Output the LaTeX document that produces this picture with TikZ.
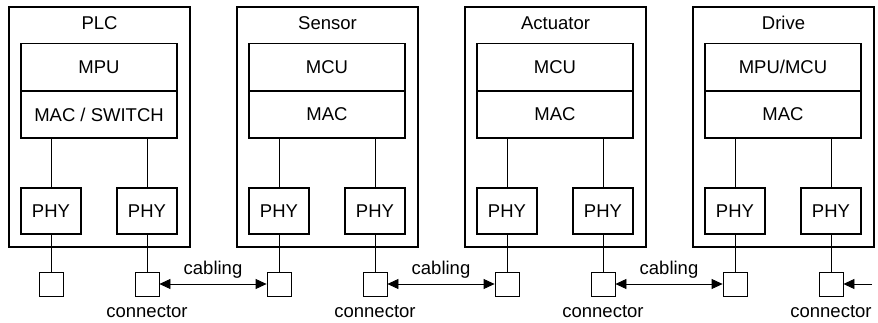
\documentclass[tikz,border=0pt]{standalone}
\usepackage{fontspec}
\setmainfont{Liberation Sans}
\usetikzlibrary{arrows.meta}
\begin{document}
\begin{tikzpicture}[x=1pt,y=-1pt,
  every node/.style={font=\fontsize{18.5}{22}\selectfont},
  outerbox/.style={draw,line width=1.6pt,minimum width=181pt,minimum height=240pt,inner sep=0pt},
  blockbox/.style={draw,line width=1.6pt,minimum width=156pt,minimum height=47pt,inner sep=0pt},
  phybox/.style={draw,line width=1.6pt,minimum width=60pt,minimum height=46pt,inner sep=0pt},
  conbox/.style={draw,line width=0.8pt,minimum width=24pt,minimum height=24pt,inner sep=0pt},
  wire/.style={line width=0.8pt},
  cable/.style={line width=0.8pt,{Triangle[length=11pt,width=10pt]}-{Triangle[length=11pt,width=10pt]}},
  cablein/.style={line width=0.8pt,-{Triangle[length=11pt,width=10pt]}},
  lbl/.style={inner sep=0pt,anchor=base}
]
\useasboundingbox (0,0) rectangle (878,323);
\foreach \i/\ox/\name/\top/\mac in {1/9/PLC/MPU/{MAC / SWITCH}, 2/237/Sensor/MCU/MAC, 3/465/Actuator/MCU/MAC, 4/693/Drive/{MPU/MCU}/MAC}{
  \node[outerbox] (box\i) at (\ox+90.5,127) {};
  \node[lbl] (title\i) at (\ox+90.5,30) {\name};
  \node[blockbox] (top\i) at (\ox+90,67) {\top};
  \node[blockbox] (mac\i) at (\ox+90,114.5) {\mac};
  \node[phybox] (phyl\i) at (\ox+42,211) {PHY};
  \node[phybox] (phyr\i) at (\ox+138,211) {PHY};
  \node[conbox] (conl\i) at (\ox+42,284) {};
  \node[conbox] (conr\i) at (\ox+138,284) {};
  \draw[wire] (phyl\i.north |- mac\i.south) -- (phyl\i.north);
  \draw[wire] (phyr\i.north |- mac\i.south) -- (phyr\i.north);
  \draw[wire] (phyl\i.south) -- (conl\i.north);
  \draw[wire] (phyr\i.south) -- (conr\i.north);
  \node[lbl] (clabel\i) at (\ox+138,317) {connector};
}
\draw[cable] (conr1.east) -- (conl2.west) node[lbl,midway,yshift=10pt] (cab1) {cabling};
\draw[cable] (conr2.east) -- (conl3.west) node[lbl,midway,yshift=10pt] (cab2) {cabling};
\draw[cable] (conr3.east) -- (conl4.west) node[lbl,midway,yshift=10pt] (cab3) {cabling};
\coordinate (ext) at (872,284);
\draw[cablein] (ext) -- (conr4.east);
\end{tikzpicture}
\end{document}
